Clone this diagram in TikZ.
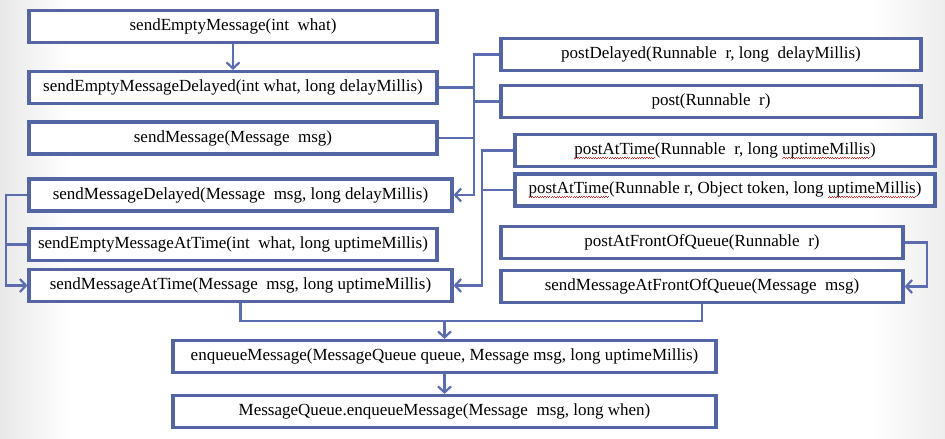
\documentclass[tikz,border=0pt]{standalone}
\usepackage{fontspec}
\setmainfont{Liberation Serif}
\usetikzlibrary{arrows.meta}
\definecolor{boxblue}{HTML}{5365A3}
\definecolor{linkblue}{HTML}{5B6DB0}
\definecolor{wavered}{HTML}{E03030}
\newsavebox\wavebox
\newsavebox\wavetxt
\newcommand\redwave[1]{\sbox\wavetxt{#1}\rlap{\raisebox{-4pt}{\hbox to\wd\wavetxt{\xleaders\copy\wavebox\hfil}}}\usebox\wavetxt}
\begin{document}
\sbox\wavebox{\color{wavered}\rule{1.2pt}{0.8pt}\raisebox{0.8pt}{\rule{1.2pt}{0.8pt}}}%
\begin{tikzpicture}[x=1pt,y=-1pt,
  fbox/.style={draw=boxblue,line width=3.2pt,fill=white,inner sep=0pt,
    minimum height=32pt,font=\fontsize{17}{19}\selectfont,text=black},
  link/.style={draw=linkblue,line width=2.2pt},
  arr/.style={link,-{Straight Barb[length=6pt,width=13pt]}}]
\useasboundingbox (0,0) rectangle (945,439);
\shade[left color=gray!18,right color=white] (0,0) rectangle (70,439);
\shade[left color=white,right color=gray!14] (870,0) rectangle (945,439);
% left column
\node[fbox,minimum width=408pt] (b1) at (233,26.5) {sendEmptyMessage(int\ \ what)};
\node[fbox,minimum width=408pt] (b2) at (233,87.5) {sendEmptyMessageDelayed(int what, long delayMillis)};
\node[fbox,minimum width=408pt] (b3) at (233,138) {sendMessage(Message\ \ msg)};
\node[fbox,minimum width=423pt] (b4) at (240.5,195) {sendMessageDelayed(Message\ \ msg, long delayMillis)};
\node[fbox,minimum width=408pt] (b5) at (233,244.5) {sendEmptyMessageAtTime(int\ \ what, long uptimeMillis)};
\node[fbox,minimum width=423pt] (b6) at (240.5,285.5) {sendMessageAtTime(Message\ \ msg, long uptimeMillis)};
% right column
\node[fbox,minimum width=420pt] (r1) at (711,54.5) {postDelayed(Runnable\ \ r, long\ \ delayMillis)};
\node[fbox,minimum width=420pt] (r2) at (711,101.5) {post(Runnable\ \ r)};
\node[fbox,minimum width=420pt] (r3) at (725,150.5) {\redwave{postAtTime}(Runnable\ \ r, long \redwave{uptimeMillis})};
\node[fbox,minimum width=420pt] (r4) at (725,190) {\redwave{postAtTime}(Runnable r, Object token, long \redwave{uptimeMillis})};
\node[fbox,minimum width=402pt] (r5) at (702,242.5) {postAtFrontOfQueue(Runnable\ \ r)};
\node[fbox,minimum width=402pt] (r6) at (702,286.5) {sendMessageAtFrontOfQueue(Message\ \ msg)};
% bottom
\node[fbox,minimum width=543pt] (e1) at (444.5,356.5) {enqueueMessage(MessageQueue queue, Message msg, long uptimeMillis)};
\node[fbox,minimum width=543pt] (e2) at (444.5,411.5) {MessageQueue.enqueueMessage(Message\ \ msg, long when)};
% bus coordinates
\coordinate (busA) at (474,0);
\coordinate (busB) at (482,0);
\coordinate (busL) at (6,0);
\coordinate (busR) at (927,0);
\coordinate (merge) at (444.5,321);
% connectors
\draw[arr] (b1.south) -- (b2.north);
\draw[link] (b2.east) -- (b2.east -| busA);
\draw[link] (b3.east) -- (b3.east -| busA);
\draw[link] (r2.west) -- (r2.west -| busA);
\draw[arr] (r1.west) -- (r1.west -| busA) |- (b4.east);
\draw[link] (r4.west) -- (r4.west -| busB);
\draw[arr] (r3.west) -- (r3.west -| busB) |- (b6.east);
\draw[link] (b5.west) -- (b5.west -| busL);
\draw[arr] (b4.west) -- (b4.west -| busL) |- (b6.west);
\draw[arr] (r5.east) -- (r5.east -| busR) |- (r6.east);
\draw[link] (b6.south) |- (merge);
\draw[link] (r6.south) |- (merge);
\draw[arr] (merge) -- (e1.north);
\draw[arr] (e1.south) -- (e2.north);
\end{tikzpicture}
\end{document}
